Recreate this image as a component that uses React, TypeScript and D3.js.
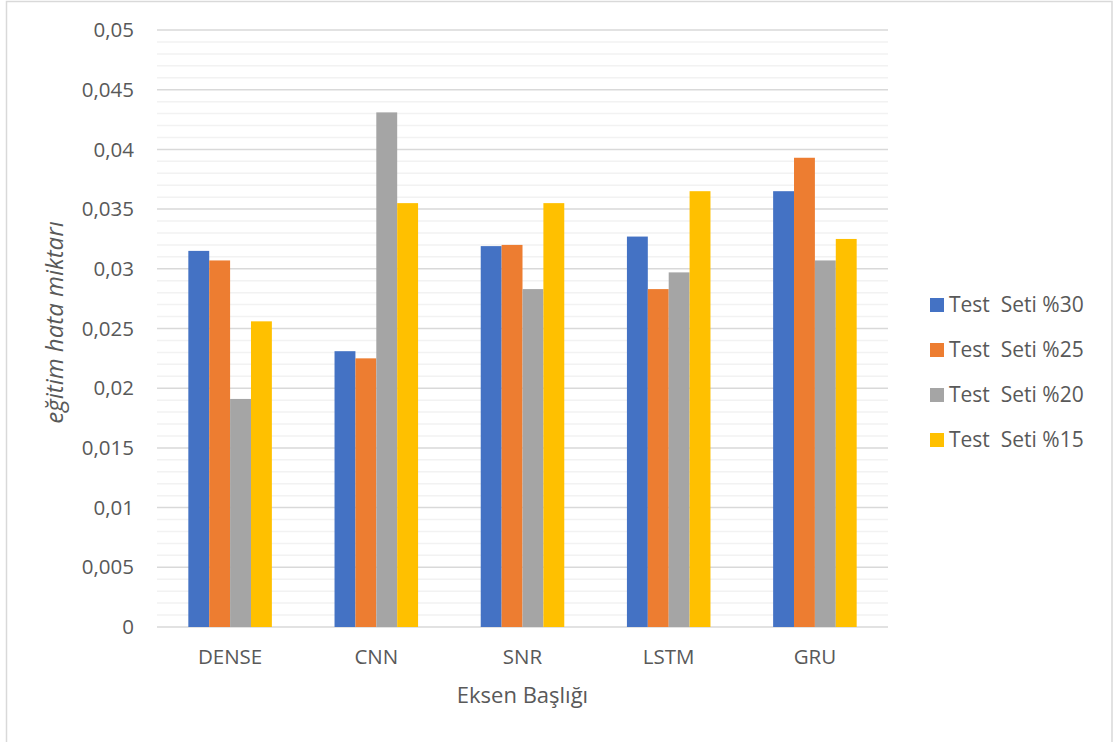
import React from "react";
import * as d3 from "d3";

const categories = ["DENSE", "CNN", "SNR", "LSTM", "GRU"];
const seriesNames = ["Test  Seti %30", "Test  Seti %25", "Test  Seti %20", "Test  Seti %15"];
const seriesColors = ["#4472C4", "#ED7D31", "#A5A5A5", "#FFC000"];
const set30 = [0.0315, 0.0231, 0.0319, 0.0327, 0.0365];
const set25 = [0.0307, 0.0225, 0.032, 0.0283, 0.0393];
const set20 = [0.0191, 0.0431, 0.0283, 0.0297, 0.0307];
const set15 = [0.0256, 0.0355, 0.0355, 0.0365, 0.0325];
const majorTicks = [0, 0.005, 0.01, 0.015, 0.02, 0.025, 0.03, 0.035, 0.04, 0.045, 0.05];
const minorStep = 0.001;

const W = 1115;
const H = 742;
const FONT = "'Open Sans', 'Noto Sans', sans-serif";
const TEXT = "#595959";

export default function App() {
  const series = [set30, set25, set20, set15];
  const left = 157, right = 888, top = 30, bottom = 627;

  const x = d3.scaleBand<string>().domain(categories).range([left, right]);
  // gap width of 300%: 1.5 bar widths of empty space on each side of a group
  const inner = d3
    .scaleBand<number>()
    .domain(d3.range(series.length))
    .range([0, x.bandwidth()])
    .paddingOuter(1.5)
    .paddingInner(0);
  const y = d3.scaleLinear().domain([0, 0.05]).range([bottom, top]);

  const minorTicks = d3.range(0, 0.05 + 1e-9, minorStep).filter(
    (v) => !majorTicks.some((m) => Math.abs(m - v) < 1e-9)
  );
  const fmt = (v: number) => (v === 0 ? "0" : String(+v.toFixed(3)).replace(".", ","));

  return (
    <svg width={W} height={H} style={{ display: "block", position: "absolute", left: 0, top: 0 }}>
      <rect x={0} y={0} width={W} height={H} fill="#fff" />
      <rect x={6.5} y={1.5} width={1105.5} height={H + 10} fill="#fff" stroke="#d9d9d9" strokeWidth={1.5} />

      {minorTicks.map((v, i) => (
        <line key={"mi" + i} x1={left} x2={right} y1={y(v)} y2={y(v)} stroke="#f2f2f2" strokeWidth={1.5} />
      ))}
      {majorTicks.map((v, i) => (
        <line key={"ma" + i} x1={left} x2={right} y1={y(v)} y2={y(v)} stroke="#d9d9d9" strokeWidth={1.5} />
      ))}

      {categories.map((c, ci) => (
        <g key={c}>
          {series.map((s, si) => (
            <rect
              key={si}
              x={(x(c) as number) + (inner(si) as number)}
              y={y(s[ci])}
              width={inner.bandwidth()}
              height={y(0) - y(s[ci])}
              fill={seriesColors[si]}
            />
          ))}
        </g>
      ))}

      {majorTicks.map((v, i) => (
        <text key={"yl" + i} x={134} y={y(v)} dy="0.35em" textAnchor="end" fontFamily={FONT} fontSize={20.5} fill={TEXT}>
          {fmt(v)}
        </text>
      ))}

      {categories.map((c) => (
        <text key={"xl" + c} x={(x(c) as number) + x.bandwidth() / 2} y={657} dy="0.35em" textAnchor="middle" fontFamily={FONT} fontSize={20.5} fill={TEXT}>
          {c}
        </text>
      ))}

      <text x={(left + right) / 2} y={695} dy="0.35em" textAnchor="middle" fontFamily={FONT} fontSize={22} fill={TEXT}>
        Eksen Başlığı
      </text>

      <text
        transform={`translate(55,${(top + bottom) / 2 - 6}) rotate(-90)`}
        dy="0.35em"
        textAnchor="middle"
        fontFamily={FONT}
        fontSize={24}
        fontStyle="italic"
        fill={TEXT}
      >
        eğitim hata miktarı
      </text>

      {seriesNames.map((n, i) => (
        <g key={n} transform={`translate(930,${305 + i * 45})`}>
          <rect x={0} y={-7} width={14} height={14} fill={seriesColors[i]} />
          <text x={19} y={0} dy="0.35em" fontFamily={FONT} fontSize={21} fill={TEXT} style={{ whiteSpace: "pre" }}>
            {n}
          </text>
        </g>
      ))}
    </svg>
  );
}
